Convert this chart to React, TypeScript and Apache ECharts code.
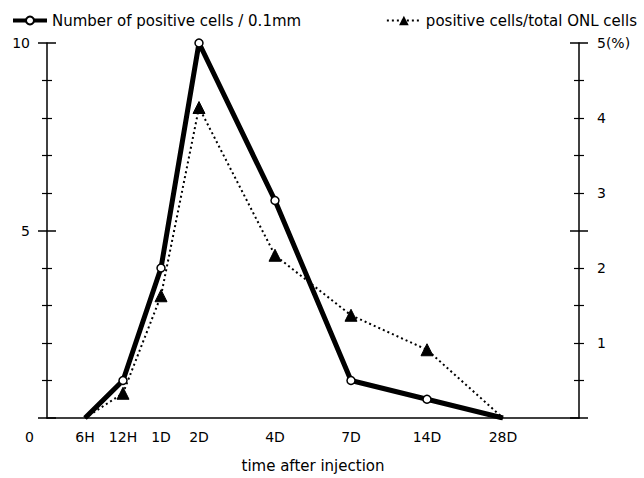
import React, { useEffect, useRef } from "react";
import * as echarts from "echarts";

// time slots (blank slots keep the original uneven spacing)
const categories = ["s0", "6H", "12H", "1D", "2D", "s5", "4D", "s7", "7D", "s9", "14D", "s11", "28D", "s13", "s14"];
const cellsPer01mm = [null, 0, 1, 4, 10, null, 5.8, null, 1, null, 0.5, null, 0, null, null];
const ratioPct = [null, 0, 0.33, 1.63, 4.14, null, 2.17, null, 1.37, null, 0.91, null, 0, null, null];
const leftTicks = [0, 5, 10];
const rightTicks = [1, 2, 3, 4, 5];

const seriesNames = ["Number of positive cells / 0.1mm", "positive cells/total ONL cells"];
const xTitle = "time after injection";

const FONT = "DejaVu Sans";

// endpoints (6H and 28D) are drawn without a marker in the original
function withEndpointsHidden(values: (number | null)[]) {
  const idx = values.map((v, i) => (v === null ? -1 : i)).filter((i) => i >= 0);
  const first = idx[0];
  const last = idx[idx.length - 1];
  return values.map((v, i) =>
    v === null ? null : i === first || i === last ? { value: v, symbol: "none" } : v
  );
}

export default function App() {
  const ref = useRef<HTMLDivElement>(null);
  useEffect(() => {
    if (!ref.current) return;
    const chart = echarts.init(ref.current, null, { renderer: "svg" });
    const blank = (v: string) => (v.startsWith("s") && !isNaN(Number(v.slice(1))) ? "" : v);
    const axisBase = {
      type: "value" as const,
      splitLine: { show: false },
      axisLine: { show: false },
      axisLabel: { show: false },
    };
    chart.setOption({
      animation: false,
      backgroundColor: "#fff",
      textStyle: { fontFamily: FONT, color: "#000" },
      legend: [
        {
          left: 6,
          top: 8,
          itemWidth: 34,
          itemHeight: 10,
          itemGap: 4,
          data: [seriesNames[0]],
          lineStyle: { width: 4 },
          textStyle: { fontFamily: FONT, fontSize: 15, color: "#000" },
        },
        {
          right: 2,
          top: 8,
          itemWidth: 34,
          itemHeight: 12,
          data: [seriesNames[1]],
          textStyle: { fontFamily: FONT, fontSize: 15, color: "#000" },
        },
      ],
      grid: { left: 47, right: 65, top: 43, bottom: 55, containLabel: false },
      xAxis: {
        type: "category",
        data: categories,
        boundaryGap: false,
        name: xTitle,
        nameLocation: "middle",
        nameGap: 40,
        nameTextStyle: { fontFamily: FONT, fontSize: 15, color: "#000" },
        axisLine: { show: true, lineStyle: { color: "#000", width: 1.5 } },
        axisTick: { show: false },
        axisLabel: {
          interval: 0,
          margin: 12,
          fontFamily: FONT,
          fontSize: 14,
          color: "#000",
          formatter: (v: string) => blank(v),
        },
      },
      yAxis: [
        {
          type: "value",
          position: "left",
          min: leftTicks[0],
          max: leftTicks[leftTicks.length - 1],
          interval: leftTicks[1] - leftTicks[0],
          splitLine: { show: false },
          axisLine: { show: true, lineStyle: { color: "#000", width: 1.5 } },
          axisTick: { show: true, length: 9, lineStyle: { color: "#000", width: 1.5 } },
          minorTick: { show: true, splitNumber: 5, length: 5, lineStyle: { color: "#000", width: 1.2 } },
          axisLabel: {
            margin: 17,
            fontFamily: FONT,
            fontSize: 14,
            color: "#000",
            formatter: (v: number) => (v === 0 ? "" : String(v)),
          },
        },
        {
          type: "value",
          position: "right",
          min: 0,
          max: rightTicks[rightTicks.length - 1],
          interval: 2.5,
          splitLine: { show: false },
          axisLine: { show: true, lineStyle: { color: "#000", width: 1.5 } },
          axisTick: { show: true, length: 9, lineStyle: { color: "#000", width: 1.5 } },
          minorTick: { show: true, splitNumber: 5, length: 5, lineStyle: { color: "#000", width: 1.2 } },
          axisLabel: { show: false },
        },
        {
          ...axisBase,
          position: "left",
          min: leftTicks[0],
          max: leftTicks[leftTicks.length - 1],
          interval: 5,
          axisTick: { show: true, inside: true, length: 9, lineStyle: { color: "#000", width: 1.5 } },
          minorTick: { show: true, splitNumber: 5, length: 5, lineStyle: { color: "#000", width: 1.2 } },
        },
        {
          ...axisBase,
          position: "right",
          min: 0,
          max: 5,
          interval: 2.5,
          axisTick: { show: true, inside: true, length: 9, lineStyle: { color: "#000", width: 1.5 } },
          minorTick: { show: true, splitNumber: 5, length: 5, lineStyle: { color: "#000", width: 1.2 } },
        },
        {
          type: "value",
          position: "right",
          min: 0,
          max: 5,
          interval: 1,
          splitLine: { show: false },
          axisLine: { show: false },
          axisTick: { show: false },
          axisLabel: {
            margin: 18,
            fontFamily: FONT,
            fontSize: 14,
            color: "#000",
            formatter: (v: number) =>
              rightTicks.indexOf(v) < 0 ? "" : v === rightTicks[rightTicks.length - 1] ? v + "(%)" : String(v),
          },
        },
      ],
      graphic: [
        {
          type: "text",
          left: 25,
          top: 430,
          style: { text: String(leftTicks[0]), font: `14px "${FONT}"`, fill: "#000" },
        },
      ],
      series: [
        {
          name: seriesNames[1],
          type: "line",
          yAxisIndex: 1,
          data: withEndpointsHidden(ratioPct),
          connectNulls: true,
          symbol: "triangle",
          symbolSize: 12,
          lineStyle: { color: "#000", width: 2, type: [2, 3] },
          itemStyle: { color: "#000", borderColor: "#000" },
          z: 2,
        },
        {
          name: seriesNames[0],
          type: "line",
          yAxisIndex: 0,
          data: withEndpointsHidden(cellsPer01mm),
          connectNulls: true,
          symbol: "circle",
          symbolSize: 8,
          lineStyle: { color: "#000", width: 5 },
          itemStyle: { color: "#fff", borderColor: "#000", borderWidth: 1.5 },
          z: 3,
        },
      ],
    });
    return () => chart.dispose();
  }, []);
  return <div ref={ref} style={{ position: "fixed", left: 0, top: 0, width: 644, height: 478 }} />;
}
